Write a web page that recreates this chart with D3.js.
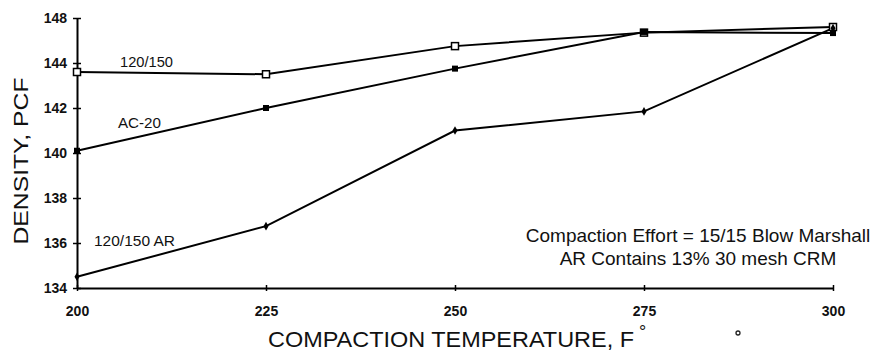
<!DOCTYPE html>
<html><head><meta charset="utf-8">
<script src="https://cdn.jsdelivr.net/npm/d3@7"></script>
<style>body{margin:0;background:#fff}svg{display:block}</style>
</head><body><svg id="c" width="879" height="352"></svg>
<script>
const temps = [200, 225, 250, 275, 300];
const s12150 = [143.6, 143.5, 144.75, 145.35, 145.6];
const sAC20 = [140.1, 142.0, 143.75, 145.38, 145.33];
const sAR = [134.5, 136.75, 141.0, 141.85, 145.55];
const yTicks = [134, 136, 138, 140, 142, 144, 146];
const yTickLabels = ["134", "136", "138", "140", "142", "144", "148"];
const xTickLabels = ["200", "225", "250", "275", "300"];
const seriesNames = ["120/150", "AC-20", "120/150 AR"];
const notes = ["Compaction Effort = 15/15 Blow Marshall", "AR Contains 13% 30 mesh CRM"];

const svg = d3.select("#c");
const font = "Liberation Sans, Arial, Helvetica, sans-serif";
const x = d3.scaleLinear().domain([200, 300]).range([77, 833]);
const y = d3.scaleLinear().domain([134, 146]).range([288, 18]);

// axes
const yAxis = d3.axisLeft(y).tickValues(yTicks).tickSize(0)
  .tickFormat((d, i) => yTickLabels[i]).tickPadding(10);
const gy = svg.append("g").attr("transform", `translate(${x(200)},0)`).call(yAxis);
gy.select(".domain").attr("stroke", "#000").attr("stroke-width", 2);
gy.selectAll(".tick text").attr("font-family", font).attr("font-size", 14)
  .attr("font-weight", "bold").attr("fill", "#111");
gy.selectAll(".tick").append("line").attr("x1", -4).attr("x2", 4).attr("stroke", "#000").attr("stroke-width", 1.5);

const xAxis = d3.axisBottom(x).tickValues(temps).tickSize(0)
  .tickFormat((d, i) => xTickLabels[i]).tickPadding(18);
const gx = svg.append("g").attr("transform", `translate(0,${y(134)})`).call(xAxis);
gx.select(".domain").attr("stroke", "#000").attr("stroke-width", 2);
gx.selectAll(".tick text").attr("font-family", font).attr("font-size", 14)
  .attr("font-weight", "bold").attr("fill", "#111");
gx.selectAll(".tick").append("line").attr("y1", -3).attr("y2", 3).attr("stroke", "#000").attr("stroke-width", 1.5);

// series
const line = d3.line().x((d, i) => x(temps[i])).y(d => y(d));
const allSeries = [s12150, sAC20, sAR];
allSeries.forEach(s => {
  svg.append("path").datum(s).attr("d", line).attr("fill", "none")
    .attr("stroke", "#000").attr("stroke-width", 2);
});
// markers
svg.append("g").selectAll("rect").data(s12150).join("rect")
  .attr("x", (d, i) => x(temps[i]) - 3.5).attr("y", d => y(d) - 3.5)
  .attr("width", 7).attr("height", 7).attr("fill", "#fff").attr("stroke", "#000").attr("stroke-width", 1.5);
svg.append("g").selectAll("rect").data(sAC20).join("rect")
  .attr("x", (d, i) => x(temps[i]) - 3).attr("y", d => y(d) - 3)
  .attr("width", 6).attr("height", 6).attr("fill", "#000");
svg.append("g").selectAll("path").data(sAR).join("path")
  .attr("d", d3.symbol(d3.symbolDiamond, 22))
  .attr("transform", (d, i) => `translate(${x(temps[i])},${y(d)})`).attr("fill", "#000");

// series labels
const lab = [
  {t: seriesNames[0], x: 120, y: 67, w: 53},
  {t: seriesNames[1], x: 118, y: 128, w: 43},
  {t: seriesNames[2], x: 94, y: 246, w: 81}
];
svg.append("g").selectAll("text").data(lab).join("text")
  .attr("x", d => d.x).attr("y", d => d.y).text(d => d.t)
  .attr("textLength", d => d.w).attr("lengthAdjust", "spacingAndGlyphs")
  .attr("font-family", font).attr("font-size", 14.5).attr("fill", "#111");

// notes
svg.append("g").selectAll("text").data(notes).join("text")
  .attr("x", 698).attr("y", (d, i) => 242 + i * 23).attr("text-anchor", "middle")
  .text(d => d).attr("font-family", font).attr("font-size", 19).attr("fill", "#111");

// axis titles
svg.append("text").attr("transform", "translate(28,161) rotate(-90)")
  .attr("text-anchor", "middle").text("DENSITY, PCF")
  .attr("textLength", 167).attr("lengthAdjust", "spacingAndGlyphs")
  .attr("font-family", font).attr("font-size", 20).attr("fill", "#111");
svg.append("text").attr("x", 268).attr("y", 347).text("COMPACTION TEMPERATURE, F")
  .attr("textLength", 366).attr("lengthAdjust", "spacingAndGlyphs")
  .attr("font-family", font).attr("font-size", 22).attr("fill", "#111");
svg.append("text").attr("x", 639).attr("y", 338).text("°")
  .attr("font-family", font).attr("font-size", 18).attr("fill", "#111");
svg.append("circle").attr("cx", 738).attr("cy", 333).attr("r", 2)
  .attr("fill", "none").attr("stroke", "#222").attr("stroke-width", 1.3);
</script></body></html>
